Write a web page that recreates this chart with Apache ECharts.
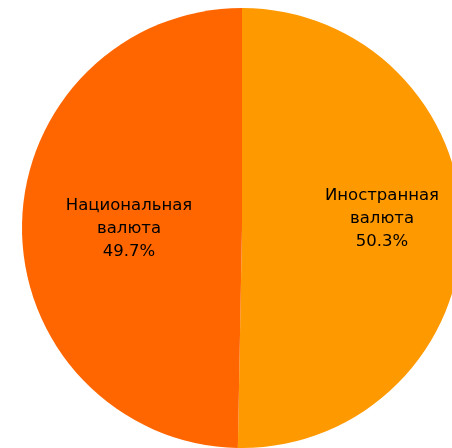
<!DOCTYPE html>
<html>
<head>
<meta charset="utf-8">
<script src="https://cdn.jsdelivr.net/npm/echarts@6/dist/echarts.min.js"></script>
<style>html,body{margin:0;padding:0;background:#fff;}#c{width:452px;height:448px;}</style>
</head>
<body>
<div id="c"></div>
<script>
const categories = ['Иностранная\nвалюта', 'Национальная\nвалюта'];
const values = [50.3, 49.7];
const colors = ['#FF9900', '#FF6600'];
const labelOffsets = [[27, -10], [0, 2]];

const chart = echarts.init(document.getElementById('c'), null, {renderer: 'canvas'});
chart.setOption({
  animation: false,
  series: [{
    type: 'pie',
    center: [242, 228],
    radius: 220,
    startAngle: 90,
    clockwise: true,
    silent: true,
    itemStyle: {borderWidth: 0},
    label: {
      position: 'inside',
      formatter: p => p.name + '\n' + p.value.toFixed(1) + '%',
      fontFamily: 'DejaVu Sans',
      fontSize: 16.5,
      fontWeight: 'normal',
      lineHeight: 23,
      color: '#000',
      align: 'center'
    },
    labelLine: {show: false},
    data: categories.map((n, i) => ({
      name: n,
      value: values[i],
      itemStyle: {color: colors[i]},
      label: {offset: labelOffsets[i]}
    }))
  }]
});
</script>
</body>
</html>
